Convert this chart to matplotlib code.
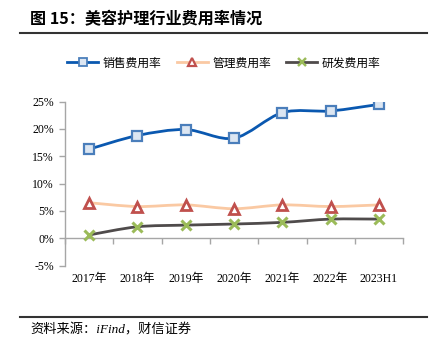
import matplotlib
matplotlib.use("Agg")
import matplotlib.pyplot as plt
import numpy as np
from matplotlib.path import Path
from matplotlib.patches import PathPatch
from matplotlib.lines import Line2D

plt.rcParams['font.family'] = ['Liberation Serif', 'Noto Sans CJK SC']

categories = ['2017年', '2018年', '2019年', '2020年', '2021年', '2022年', '2023H1']
sales_rate = [16.3, 18.8, 19.9, 18.3, 23.0, 23.3, 24.5]
admin_rate = [6.5, 5.8, 6.1, 5.4, 6.1, 5.8, 6.1]
rd_rate = [0.6, 2.1, 2.4, 2.6, 2.9, 3.5, 3.5]
series_names = ['销售费用率', '管理费用率', '研发费用率']
y_ticks = [-5, 0, 5, 10, 15, 20, 25]


def smooth_path(xs, ys):
    # Catmull-Rom style bezier, like Excel's smoothed lines
    pts = np.column_stack([xs, ys]).astype(float)
    verts = [pts[0]]
    codes = [Path.MOVETO]
    n = len(pts)
    for i in range(n - 1):
        p0 = pts[i - 1] if i > 0 else pts[i]
        p1 = pts[i]
        p2 = pts[i + 1]
        p3 = pts[i + 2] if i + 2 < n else pts[i + 1]
        verts += [p1 + (p2 - p0) / 6.5, p2 - (p3 - p1) / 6.5, p2]
        codes += [Path.CURVE4] * 3
    return Path(verts, codes)


fig = plt.figure(figsize=(4.33, 3.4), dpi=100)
ax = fig.add_axes([0.150, 0.219, 0.781, 0.482])

x = np.arange(len(categories))

styles = [
    dict(line='#0A58B0', lw=2.0, marker='s', ms=7.5, mfc='#DCE6F2', mec='#4A7EBB', mew=1.6),
    dict(line='#FAC9A3', lw=2.0, marker='^', ms=7, mfc='white', mec='#C0504D', mew=2.0),
    dict(line='#4F4B4B', lw=2.0, marker='x', ms=6.5, mfc='#9BBB59', mec='#9BBB59', mew=2.2),
]
handles = []
for vals, st in zip([sales_rate, admin_rate, rd_rate], styles):
    ax.add_patch(PathPatch(smooth_path(x, vals), fill=False, edgecolor=st['line'],
                           lw=st['lw'], capstyle='round', zorder=2))
    ax.plot(x, vals, linestyle='none', marker=st['marker'], ms=st['ms'],
            mfc=st['mfc'], mec=st['mec'], mew=st['mew'], zorder=3)
    handles.append(Line2D([], [], color=st['line'], lw=st['lw'], marker=st['marker'],
                          ms=st['ms'] * 0.8, mfc=st['mfc'], mec=st['mec'], mew=st['mew'] * 0.8))

ax.set_xlim(-0.5, len(categories) - 0.5)
ax.set_ylim(-5, 25)
ax.set_yticks(y_ticks)
ax.set_yticklabels([f'{t}%' for t in y_ticks], fontsize=8.5)
ax.set_xticks(np.arange(-0.5, len(categories), 1.0))
ax.set_xticklabels([])

for s in ['top', 'right']:
    ax.spines[s].set_visible(False)
ax.spines['bottom'].set_position(('data', 0))
for s in ['left', 'bottom']:
    ax.spines[s].set_color('#A6A6A6')
    ax.spines[s].set_linewidth(1.0)
ax.tick_params(axis='both', direction='out', length=4, color='#A6A6A6', width=1.0)
ax.tick_params(axis='y', pad=4)

for i, c in enumerate(categories):
    ax.text(i, -0.082, c, transform=ax.get_xaxis_transform(), ha='center', va='center',
            fontsize=8.5)

fig.legend(handles, series_names, loc='center', bbox_to_anchor=(224 / 433, 1 - 63 / 340),
           ncol=3, frameon=False, handlelength=2.6, columnspacing=1.3,
           handletextpad=0.4, prop={'family': ['Noto Sans CJK SC'], 'size': 8.5})

fig.text(30 / 433, 1 - 19 / 340, '图 15：美容护理行业费用率情况', fontsize=11.6, fontweight='bold',
         family=['Noto Sans CJK SC'], ha='left', va='center')
fig.add_artist(Line2D([20 / 433, 427 / 433], [1 - 33 / 340, 1 - 33 / 340], color='#333333', lw=1.5))
fig.add_artist(Line2D([20 / 433, 427 / 433], [1 - 317 / 340, 1 - 317 / 340], color='#333333', lw=1.5))
fig.text(30 / 433, 1 - 330 / 340, '资料来源：iFind，财信证券', fontsize=9.5, style='italic',
         family=['Liberation Serif', 'Noto Sans CJK SC'], ha='left', va='center')

fig.savefig('out.png', dpi=100)
